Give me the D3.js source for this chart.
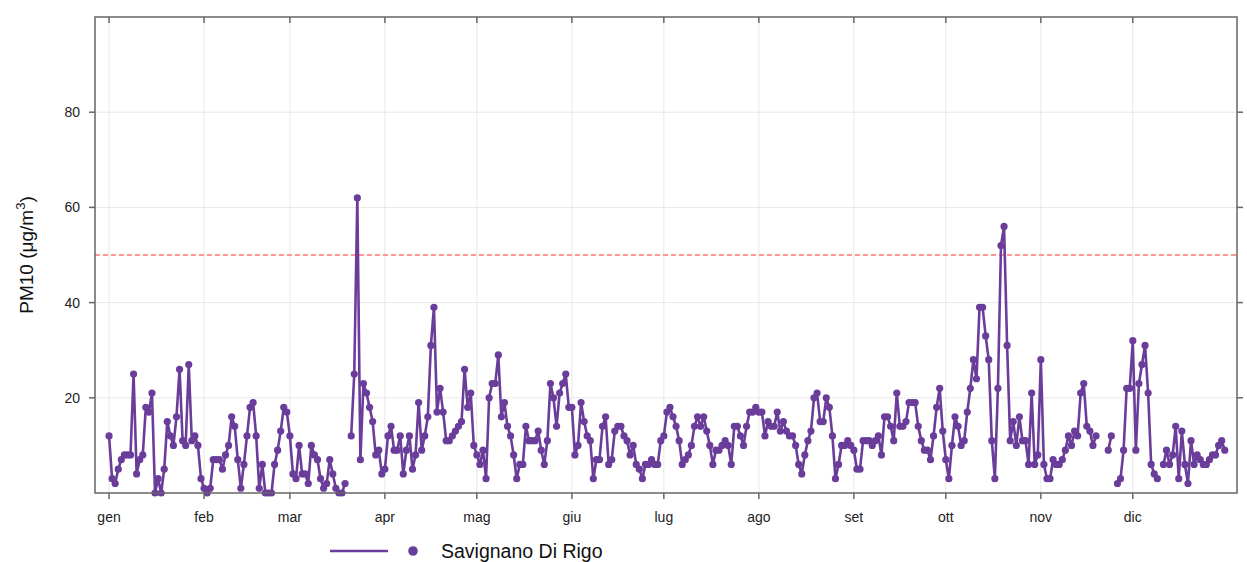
<!DOCTYPE html>
<html>
<head>
<meta charset="utf-8">
<script src="https://cdn.jsdelivr.net/npm/d3@7"></script>
<style>
  body { margin: 0; background: #fff; }
  svg { display: block; font-family: "Liberation Sans", Arial, sans-serif; }
</style>
</head>
<body>
<div id="chart"></div>
<script>
// Daily PM10, one array per month (null = missing day)
const jan = [12,3,2,5,7,8,8,8,25,4,7,8,18,17,21,0,3,0,5,15,12,10,16,26,11,10,27,11,12,10,3];
const feb = [1,0,1,7,7,7,5,8,10,16,14,7,1,6,12,18,19,12,1,6,0,0,0,6,9,13,18,17];
const mar = [12,4,3,10,4,4,2,10,8,7,3,1,2,7,4,1,0,0,2,null,12,25,62,7,23,21,18,15,8,9,4];
const apr = [5,12,14,9,9,12,4,9,12,5,8,19,9,12,16,31,39,17,22,17,11,11,12,13,14,15,26,18,21,10];
const may = [8,6,9,3,20,23,23,29,16,19,14,12,8,3,6,6,14,11,11,11,13,9,6,11,23,20,14,21,23,25,18];
const jun = [18,8,10,19,15,12,11,3,7,7,14,16,6,7,13,14,14,12,11,8,10,6,5,3,6,6,7,6,6,11];
const jul = [12,17,18,16,14,11,6,7,8,10,14,16,14,16,13,10,6,9,9,10,11,10,6,14,14,12,10,14,17,17,18];
const aug = [17,17,12,15,14,14,17,13,15,13,12,12,10,6,4,8,11,13,20,21,15,15,20,18,12,3,6,10,10,11,10];
const sep = [9,5,5,11,11,11,10,11,12,8,16,16,14,11,21,14,14,15,19,19,19,14,11,9,9,7,12,18,22,13];
const oct = [7,3,10,16,14,10,11,17,22,28,24,39,39,33,28,11,3,22,52,56,31,11,15,10,16,11,11,6,21,6,8];
const nov = [28,6,3,3,7,6,6,7,9,12,10,13,12,21,23,14,13,10,12,null,null,null,9,12,null,2,3,9,22,22];
const dec = [32,9,23,27,31,21,6,4,3,null,6,9,6,8,14,3,13,6,2,11,6,8,7,6,6,7,8,8,10,11,9];

const monthLabels = ['gen','feb','mar','apr','mag','giu','lug','ago','set','ott','nov','dic'];
const yTicks = [20, 40, 60, 80];
const limitValue = 50;
const siteName = 'Savignano Di Rigo';

const width = 1247;
const height = 562;
const margin = { left: 95, right: 10, top: 17, bottom: 69 };
const lineColor = '#6a3d9a';

const year = 2019;
const values = [].concat(jan, feb, mar, apr, may, jun, jul, aug, sep, oct, nov, dec);
const data = values.map((v, i) => ({ date: d3.timeDay.offset(new Date(year, 0, 1), i), v }));

const svg = d3.select('#chart')
  .append('svg')
  .attr('width', width)
  .attr('height', height);

const x = d3.scaleTime()
  .domain([d3.timeHour.offset(new Date(year, 0, 1), -110), d3.timeHour.offset(new Date(year, 11, 31), 96)])
  .range([margin.left, width - margin.right]);

const y = d3.scaleLinear()
  .domain([0, 100])
  .range([height - margin.bottom, margin.top]);

const x0 = margin.left, x1 = width - margin.right;
const y0 = height - margin.bottom, y1 = margin.top;
const monthTicks = d3.range(12).map(m => new Date(year, m, 1));

// Grid
svg.append('g')
  .selectAll('line')
  .data(monthTicks)
  .enter()
  .append('line')
  .attr('x1', d => x(d)).attr('x2', d => x(d))
  .attr('y1', y1).attr('y2', y0)
  .attr('stroke', '#e8e8e8')
  .attr('stroke-width', 1);

svg.append('g')
  .selectAll('line')
  .data(yTicks)
  .enter()
  .append('line')
  .attr('x1', x0).attr('x2', x1)
  .attr('y1', d => y(d)).attr('y2', d => y(d))
  .attr('stroke', '#e8e8e8')
  .attr('stroke-width', 1);

// Limit line
svg.append('line')
  .attr('x1', x0).attr('x2', x1)
  .attr('y1', y(limitValue)).attr('y2', y(limitValue))
  .attr('stroke', '#ff7373')
  .attr('stroke-width', 1.6)
  .attr('stroke-dasharray', '5,3');

// Series line + points
const line = d3.line()
  .defined(d => d.v != null)
  .x(d => x(d.date))
  .y(d => y(d.v));

svg.append('path')
  .datum(data)
  .attr('fill', 'none')
  .attr('stroke', lineColor)
  .attr('stroke-width', 2.6)
  .attr('stroke-linejoin', 'round')
  .attr('d', line);

svg.append('g')
  .selectAll('circle')
  .data(data.filter(d => d.v != null))
  .enter()
  .append('circle')
  .attr('cx', d => x(d.date))
  .attr('cy', d => y(d.v))
  .attr('r', 3.6)
  .attr('fill', lineColor);

// Frame
svg.append('rect')
  .attr('x', x0).attr('y', y1)
  .attr('width', x1 - x0).attr('height', y0 - y1)
  .attr('fill', 'none')
  .attr('stroke', '#666')
  .attr('stroke-width', 1.5);

// Axes (ticks on all four sides)
const tickLen = 6;
const axisG = svg.append('g').attr('stroke', '#666').attr('stroke-width', 1.5);
monthTicks.forEach(d => {
  axisG.append('line').attr('x1', x(d)).attr('x2', x(d)).attr('y1', y0).attr('y2', y0 + tickLen);
  axisG.append('line').attr('x1', x(d)).attr('x2', x(d)).attr('y1', y1).attr('y2', y1 + tickLen);
});
yTicks.forEach(d => {
  axisG.append('line').attr('x1', x0 - tickLen).attr('x2', x0).attr('y1', y(d)).attr('y2', y(d));
  axisG.append('line').attr('x1', x1).attr('x2', x1 + tickLen).attr('y1', y(d)).attr('y2', y(d));
});

svg.append('g')
  .selectAll('text')
  .data(monthTicks)
  .enter()
  .append('text')
  .attr('x', d => x(d))
  .attr('y', y0 + 29)
  .attr('text-anchor', 'middle')
  .attr('font-size', '14px')
  .attr('fill', '#222')
  .text((d, i) => monthLabels[i]);

svg.append('g')
  .selectAll('text')
  .data(yTicks)
  .enter()
  .append('text')
  .attr('x', x0 - 15)
  .attr('y', d => y(d) + 5)
  .attr('text-anchor', 'end')
  .attr('font-size', '14px')
  .attr('fill', '#222')
  .text(d => d);

// Y label
const yLab = svg.append('text')
  .attr('transform', `translate(33, ${(y0 + y1) / 2}) rotate(-90)`)
  .attr('text-anchor', 'middle')
  .attr('font-size', '19px')
  .attr('fill', '#111');
yLab.append('tspan').text('PM10 (μg/m');
yLab.append('tspan').attr('font-size', '13px').attr('dy', '-8').text('3');
yLab.append('tspan').attr('dy', '8').text(')');

// Legend
const legY = 551;
svg.append('line')
  .attr('x1', 330).attr('x2', 388)
  .attr('y1', legY).attr('y2', legY)
  .attr('stroke', lineColor)
  .attr('stroke-width', 2.6);
svg.append('circle')
  .attr('cx', 413).attr('cy', legY)
  .attr('r', 4.8)
  .attr('fill', lineColor);
svg.append('text')
  .attr('x', 441).attr('y', legY + 7)
  .attr('font-size', '19.5px')
  .attr('fill', '#111')
  .text(siteName);
</script>
</body>
</html>
